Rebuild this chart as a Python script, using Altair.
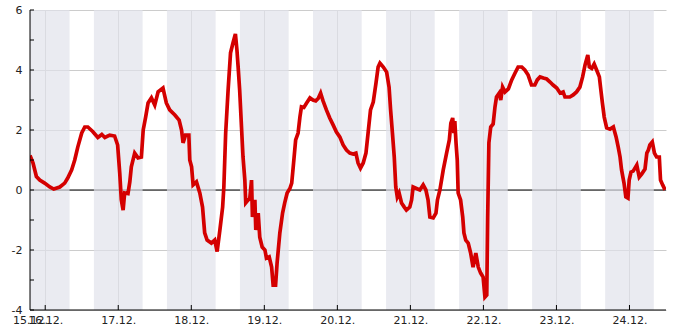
import altair as alt
import pandas as pd

START = "2023-12-15 19:00"
END = "2023-12-24 12:00"

# hours since 15.12. 19:00 and temperature readings
hours = [0,1.0,2.1,3.2,4.8,6.5,7.8,9.8,11.4,12.4,13.7,14.7,15.7,17.0,18.0,19.0,20.6,22.3,23.6,24.6,
         26.2,27.8,28.8,29.5,30.0,30.6,31.1,32.2,32.8,33.3,34.4,35.5,36.6,37.2,38.0,38.8,39.9,41.0,42.1,43.7,
         44.8,45.9,47.6,49.0,49.8,50.3,51.1,52.2,52.5,53.1,53.6,54.7,55.8,56.7,57.4,58.2,59.6,60.7,61.5,62.4,
         63.3,63.7,64.3,65.1,65.9,66.7,67.5,68.0,68.4,68.9,69.5,70.0,70.6,70.9,71.7,72.2,72.8,73.1,73.9,74.2,
         75.0,75.5,76.3,77.2,77.7,78.6,79.4,79.9,80.7,81.2,82.1,83.0,83.7,84.5,85.4,86.0,86.5,87.3,88.1,88.7,
         89.2,90.0,90.9,92.0,93.0,93.9,94.7,95.5,96.3,97.4,98.5,99.6,100.7,101.8,102.9,104.0,105.1,106.2,107.1,107.8,
         108.6,109.5,110.4,111.1,111.9,112.8,113.7,114.4,115.0,116.1,117.2,118.0,118.5,119.1,119.7,120.2,120.7,121.3,122.1,123.0,
         123.7,124.8,125.4,125.9,127.0,128.1,129.2,130.1,130.8,131.4,132.5,133.4,133.9,134.7,135.8,136.9,137.8,138.3,138.9,139.3,
         139.6,140.0,140.4,140.7,141.5,142.2,142.6,143.2,144.0,144.8,145.6,146.5,147.3,148.1,148.9,149.5,150.1,150.4,150.8,151.4,
         152.2,152.8,153.3,154.2,154.7,155.3,156.1,157.2,158.3,159.4,160.4,161.6,162.6,163.7,164.8,165.9,166.7,167.6,168.7,169.8,
         170.9,171.9,173.1,174.2,175.2,175.8,177.4,178.5,179.6,180.7,181.6,182.4,183.3,183.8,184.6,185.4,186.2,187.1,187.6,188.1,
         188.7,189.5,190.6,191.7,192.6,193.3,193.9,194.4,195.2,195.8,196.5,196.9,197.5,198.2,199.4,200.2,201.0,202.1,202.7,203.2,
         203.7,204.5,205.2,205.9,206.8,207.2,207.9,208.7]
temps = [1.15,0.9,0.45,0.33,0.23,0.1,0.03,0.1,0.23,0.4,0.67,1.0,1.43,1.9,2.1,2.1,1.95,1.75,1.85,1.75,
         1.83,1.8,1.5,0.55,-0.33,-0.67,-0.1,-0.12,0.27,0.77,1.23,1.07,1.1,2.0,2.43,2.9,3.07,2.83,3.27,3.4,
         2.9,2.67,2.5,2.33,2.0,1.57,1.83,1.83,1.0,0.77,0.17,0.27,-0.1,-0.57,-1.43,-1.67,-1.77,-1.67,-2.05,-1.33,
         -0.57,0.1,1.9,3.33,4.57,4.9,5.2,4.67,4.1,3.33,2.1,1.1,0.33,-0.43,-0.33,-0.3,0.33,-0.9,-0.33,-1.33,
         -0.77,-1.57,-1.9,-2.0,-2.27,-2.23,-2.57,-3.17,-3.17,-2.43,-1.43,-0.77,-0.43,-0.1,0.05,0.23,0.77,1.67,1.9,2.43,
         2.77,2.75,2.9,3.07,3.0,2.97,3.05,3.23,2.97,2.67,2.4,2.17,1.93,1.77,1.5,1.33,1.23,1.2,1.23,0.9,
         0.73,0.9,1.23,1.9,2.67,2.93,3.57,4.1,4.23,4.1,3.93,3.43,2.67,1.9,1.1,0.1,-0.23,-0.1,-0.43,-0.57,
         -0.67,-0.57,-0.33,0.1,0.05,0.0,0.17,0.0,-0.33,-0.9,-0.93,-0.77,-0.33,0.0,0.67,1.23,1.67,2.23,2.4,1.9,
         2.3,1.57,1.0,-0.1,-0.33,-0.9,-1.43,-1.67,-1.77,-2.1,-2.57,-2.1,-2.57,-2.77,-2.9,-3.57,-3.5,-0.9,1.57,2.1,
         2.2,2.77,3.1,3.23,3.0,3.43,3.27,3.37,3.67,3.9,4.1,4.1,4.0,3.83,3.5,3.5,3.67,3.77,3.73,3.7,
         3.6,3.5,3.4,3.23,3.27,3.1,3.1,3.17,3.27,3.43,3.77,4.17,4.5,4.1,4.05,4.2,4.0,3.77,3.33,2.9,
         2.43,2.07,2.03,2.1,1.77,1.43,1.1,0.67,0.23,-0.23,-0.27,0.33,0.6,0.63,0.83,0.43,0.53,0.7,1.23,1.33,
         1.5,1.6,1.23,1.1,1.1,0.33,0.17,0.0]

# night periods (shaded)
band_starts = ["2023-12-15 16:00", "2023-12-16 16:00", "2023-12-17 16:00", "2023-12-18 16:00",
               "2023-12-19 16:00", "2023-12-20 16:00", "2023-12-21 16:00", "2023-12-22 16:00",
               "2023-12-23 16:00"]
band_ends = ["2023-12-16 08:00", "2023-12-17 08:00", "2023-12-18 08:00", "2023-12-19 08:00",
             "2023-12-20 08:00", "2023-12-21 08:00", "2023-12-22 08:00", "2023-12-23 08:00",
             "2023-12-24 08:00"]

day_dates = [16, 17, 18, 19, 20, 21, 22, 23, 24]
y_ticks = [-4, -2, 0, 2, 4, 6]
y_minor = [-4, -3, -2, -1, 0, 1, 2, 3, 4, 5, 6]
zero_level = [0]

W, H = 636, 300
FONT = "DejaVu Sans"

ts = pd.Timestamp(START) + pd.to_timedelta(hours, unit="h")
line_df = pd.DataFrame({"t": ts.strftime("%Y-%m-%dT%H:%M:%S"), "v": temps})
band_df = pd.DataFrame({
    "s": [pd.Timestamp(s).strftime("%Y-%m-%dT%H:%M:%S") for s in band_starts],
    "e": [pd.Timestamp(s).strftime("%Y-%m-%dT%H:%M:%S") for s in band_ends],
})
day_df = pd.DataFrame({"d": [pd.Timestamp(2023, 12, d).strftime("%Y-%m-%dT%H:%M:%S") for d in day_dates]})
ytick_df = pd.DataFrame({"y": y_minor})
zero_df = pd.DataFrame({"z": zero_level})
one_df = pd.DataFrame({"k": [0]})

def dt(s):
    p = pd.Timestamp(s)
    return alt.DateTime(year=p.year, month=p.month, date=p.day, hours=p.hour, minutes=p.minute)

x_values = [dt(START)] + [alt.DateTime(year=2023, month=12, date=d) for d in day_dates]
x_scale = alt.Scale(domain=[dt(START), dt(END)])
x_axis = alt.Axis(values=x_values, format="%d.%m.", labelFlush=False, labelOverlap=False,
                  ticks=False, domain=False, grid=True, gridColor="#cccccc", gridWidth=1,
                  labelPadding=4, title=None, labelFont=FONT, labelFontSize=11, labelColor="#222222")
y_scale = alt.Scale(domain=[-4, 6], nice=False, zero=False)
y_axis = alt.Axis(values=y_ticks, labelExpr="'' + datum.value", ticks=False, domain=False,
                  grid=True, gridColor="#cccccc", gridWidth=1, labelPadding=8, title=None,
                  labelFont=FONT, labelFontSize=11, labelColor="#222222")

zero = alt.Chart(zero_df).mark_rule(color="#000000", strokeWidth=1).encode(
    y=alt.Y("z:Q", scale=y_scale, axis=y_axis), x=alt.value(0), x2=alt.value(W))

bands = alt.Chart(band_df).mark_rect(fill="#e0e1ea", fillOpacity=0.68, strokeWidth=0, clip=True).encode(
    x=alt.X("s:T", scale=x_scale, axis=x_axis), x2="e:T", y=alt.value(0), y2=alt.value(H))

line = alt.Chart(line_df).mark_line(color="#d40000", strokeWidth=3.7, clip=True).encode(
    x=alt.X("t:T", scale=x_scale, axis=x_axis),
    y=alt.Y("v:Q", scale=y_scale, axis=y_axis))

xticks = alt.Chart(day_df).mark_rule(color="black", strokeWidth=1).encode(
    x=alt.X("d:T", scale=x_scale, axis=x_axis), y=alt.value(H - 5), y2=alt.value(H))

yticks = alt.Chart(ytick_df).mark_rule(color="black", strokeWidth=1).encode(
    y=alt.Y("y:Q", scale=y_scale, axis=y_axis), x=alt.value(0), x2=alt.value(4))

yaxis_line = alt.Chart(one_df).mark_rule(color="black", strokeWidth=1).encode(
    x=alt.value(0), y=alt.value(0), y2=alt.value(H))
xaxis_line = alt.Chart(one_df).mark_rule(color="black", strokeWidth=1).encode(
    y=alt.value(H), x=alt.value(0), x2=alt.value(W))

chart = alt.layer(zero, bands, line, xticks, yticks, yaxis_line, xaxis_line).properties(
    width=W, height=H,
    padding={"left": 30, "top": 10, "right": 19, "bottom": 20},
    autosize=alt.AutoSizeParams(type="none"),
    background="white",
).configure_view(stroke=None)

chart.save("out.html", embed_options={"renderer": "svg", "actions": False})
